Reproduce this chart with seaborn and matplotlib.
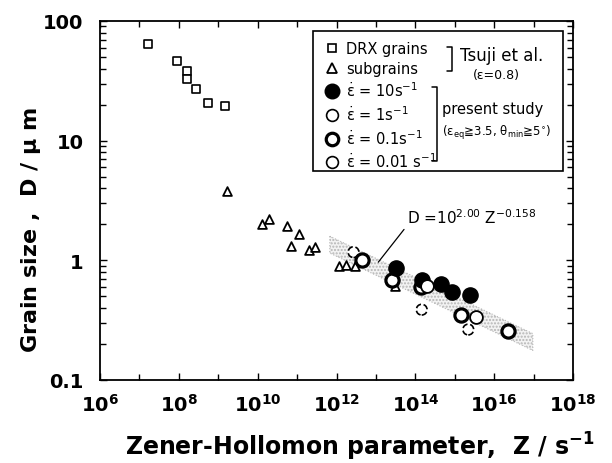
import numpy as np
import pandas as pd
import matplotlib
matplotlib.use("Agg")
import matplotlib.pyplot as plt
import seaborn as sns
from matplotlib.lines import Line2D
from matplotlib.patches import Rectangle

# ---------------- data ----------------
drx_Z = [1.62e7, 9.1e7, 1.62e8, 1.62e8, 2.75e8, 5.5e8, 1.51e9]
drx_D = [64, 46.7, 38, 32.8, 27.1, 20.5, 19.4]

sub_Z = [1.7e9, 1.26e10, 1.95e10, 5.6e10, 6.9e10, 1.12e11, 2.04e11, 2.8e11,
         1.17e12, 1.78e12, 2.95e12, 3.0e13]
sub_D = [3.77, 2.02, 2.22, 1.95, 1.33, 1.67, 1.23, 1.29, 0.89, 0.92, 0.89, 0.61]

r10_Z = [3.3e13, 1.48e14, 4.4e14, 8.3e14, 2.5e15]
r10_D = [0.87, 0.69, 0.635, 0.54, 0.51]

r1_Z = [1.95e14, 3.5e15]
r1_D = [0.61, 0.335]

r01_Z = [4.4e12, 2.5e13, 1.4e14, 1.48e15, 2.3e16]
r01_D = [1.0, 0.68, 0.60, 0.346, 0.259]

r001_Z = [2.7e12, 1.45e14, 2.2e15]
r001_D = [1.17, 0.387, 0.264]

fit_logA = 2.00
fit_n = -0.158
band_logZ = [11.83, 16.98]
band_halfwidth = 0.07

x_major = [1e6, 1e8, 1e10, 1e12, 1e14, 1e16, 1e18]
x_major_labels = [r"$10^{6}$", r"$10^{8}$", r"$10^{10}$", r"$10^{12}$",
                  r"$10^{14}$", r"$10^{16}$", r"$10^{18}$"]
x_minor = [1e7, 1e9, 1e11, 1e13, 1e15, 1e17]
y_major = [0.1, 1, 10, 100]
y_major_labels = ["0.1", "1", "10", "100"]

legend_labels = ["DRX grains", "subgrains",
                 r"$\dot{\varepsilon}$ = 10s$^{-1}$",
                 r"$\dot{\varepsilon}$ = 1s$^{-1}$",
                 r"$\dot{\varepsilon}$ = 0.1s$^{-1}$",
                 r"$\dot{\varepsilon}$ = 0.01 s$^{-1}$"]

# ---------------- style ----------------
sns.set_style("ticks")
plt.rcParams["font.family"] = ["DejaVu Sans", "Noto Sans CJK JP"]
plt.rcParams["mathtext.default"] = "regular"
for key in ["text.color", "axes.labelcolor", "xtick.color", "ytick.color",
            "axes.edgecolor"]:
    plt.rcParams[key] = "black"

fig = plt.figure(figsize=(6.12, 4.64), dpi=100)
ax = fig.add_axes([0.1634, 0.1789, 0.9363 - 0.1634, 0.9526 - 0.1789])
ax.set_xscale("log")
ax.set_yscale("log")
ax.set_xlim(1e6, 1e18)
ax.set_ylim(0.1, 100)

# band for fit
zz = np.logspace(band_logZ[0], band_logZ[1], 50)
dd = 10 ** fit_logA * zz ** fit_n
ax.fill_between(zz, dd * 10 ** -band_halfwidth, dd * 10 ** band_halfwidth,
                facecolor="#f3f3f3", edgecolor="#b5b5b5", hatch=".....",
                linewidth=0.8, linestyle=":", zorder=1)

def df(z, d):
    return pd.DataFrame({"Z": z, "D": d})

sns.scatterplot(data=df(drx_Z, drx_D), x="Z", y="D", ax=ax, marker="s", s=30,
                facecolor="white", edgecolor="black", linewidth=1.2, zorder=3)
sns.scatterplot(data=df(sub_Z, sub_D), x="Z", y="D", ax=ax, marker="^", s=40,
                facecolor="white", edgecolor="black", linewidth=1.3, zorder=3)
sns.scatterplot(data=df(r001_Z, r001_D), x="Z", y="D", ax=ax, marker="o", s=60,
                facecolor="white", edgecolor="black", linewidth=1.2,
                linestyle="--", zorder=4)
sns.scatterplot(data=df(r01_Z, r01_D), x="Z", y="D", ax=ax, marker="o", s=90,
                facecolor="white", edgecolor="black", linewidth=2.3, zorder=5)
sns.scatterplot(data=df(r10_Z, r10_D), x="Z", y="D", ax=ax, marker="o", s=120,
                facecolor="black", edgecolor="black", linewidth=1.0, zorder=6)
sns.scatterplot(data=df(r1_Z, r1_D), x="Z", y="D", ax=ax, marker="o", s=85,
                facecolor="white", edgecolor="black", linewidth=1.3, zorder=7)

# annotation of fit
ax.annotate(r"D =10$^{2.00}$ Z$^{-0.158}$", xy=(1.15e13, 0.966),
            xytext=(6.0e13, 2.31), fontsize=11, ha="left", va="center",
            arrowprops=dict(arrowstyle="-", lw=0.9, color="black",
                            relpos=(0, 0), shrinkA=0, shrinkB=0), zorder=8)

# axes ticks
ax.set_xticks(x_major)
ax.set_xticklabels(x_major_labels)
ax.set_xticks(x_minor, minor=True)
ax.set_xticklabels([], minor=True)
ax.set_yticks(y_major)
ax.set_yticklabels(y_major_labels)
ax.tick_params(which="both", direction="in", top=True, right=True, width=1.0,
               colors="black")
ax.tick_params(which="major", length=5)
ax.tick_params(which="minor", length=4)
ax.tick_params(axis="x", which="major", pad=9, labelsize=14)
ax.tick_params(axis="y", which="major", pad=12, labelsize=14)
for lab in ax.get_xticklabels() + ax.get_yticklabels():
    lab.set_fontweight("bold")
for sp in ax.spines.values():
    sp.set_linewidth(1.3)
    sp.set_color("black")

ax.set_xlabel(r"Zener-Hollomon parameter,  Z / s$^{-1}$", fontsize=17,
              fontweight="bold")
ax.set_ylabel(r"Grain size ,  D / $\mu$ m", fontsize=16, fontweight="bold")
ax.xaxis.set_label_coords(0.55, -0.184)
ax.xaxis.label.set_va("center")
ax.yaxis.set_label_coords(-0.146, 0.42)
ax.yaxis.label.set_va("center")

# legend
handles = [
    Line2D([], [], ls="", marker="s", ms=5.5, mfc="white", mec="black", mew=1.2),
    Line2D([], [], ls="", marker="^", ms=6.5, mfc="white", mec="black", mew=1.3),
    Line2D([], [], ls="", marker="o", ms=10.5, mfc="black", mec="black"),
    Line2D([], [], ls="", marker="o", ms=8.5, mfc="white", mec="black", mew=1.2),
    Line2D([], [], ls="", marker="o", ms=9, mfc="white", mec="black", mew=2.3),
    Line2D([], [], ls="", marker="o", ms=8.5, mfc="white", mec="black", mew=1.2),
]
leg = ax.legend(handles, legend_labels, loc="upper left",
                bbox_to_anchor=(0.474, 0.945), frameon=False, fontsize=10.5,
                handlelength=1.0, handletextpad=0.5, labelspacing=0.34,
                borderpad=0, borderaxespad=0)
leg.set_zorder(10)
for t in leg.get_texts():
    t.set_color("black")

ax.add_patch(Rectangle((0.4497, 0.583), 0.5298, 0.390, transform=ax.transAxes,
                       fill=True, facecolor="white", edgecolor="black",
                       lw=1.2, zorder=9))
# brackets
ax.plot([0.733, 0.744, 0.744, 0.733], [0.927, 0.927, 0.860, 0.860],
        transform=ax.transAxes, color="black", lw=1.1, zorder=10)
ax.plot([0.702, 0.712, 0.712, 0.702], [0.816, 0.816, 0.610, 0.610],
        transform=ax.transAxes, color="black", lw=1.1, zorder=10)
ax.text(0.761, 0.905, "Tsuji et al.", transform=ax.transAxes, fontsize=12,
        ha="left", va="center", zorder=10)
ax.text(0.837, 0.852, "(ε=0.8)", transform=ax.transAxes, fontsize=9,
        ha="center", va="center", zorder=10)
ax.text(0.722, 0.755, "present study", transform=ax.transAxes, fontsize=10.5,
        ha="left", va="center", zorder=10)
ax.text(0.722, 0.691, r"(ε$_{eq}$≧3.5, θ$_{min}$≧5$^{\circ}$)",
        transform=ax.transAxes, fontsize=8.5, ha="left", va="center", zorder=10)

fig.savefig("out.png", dpi=100)
